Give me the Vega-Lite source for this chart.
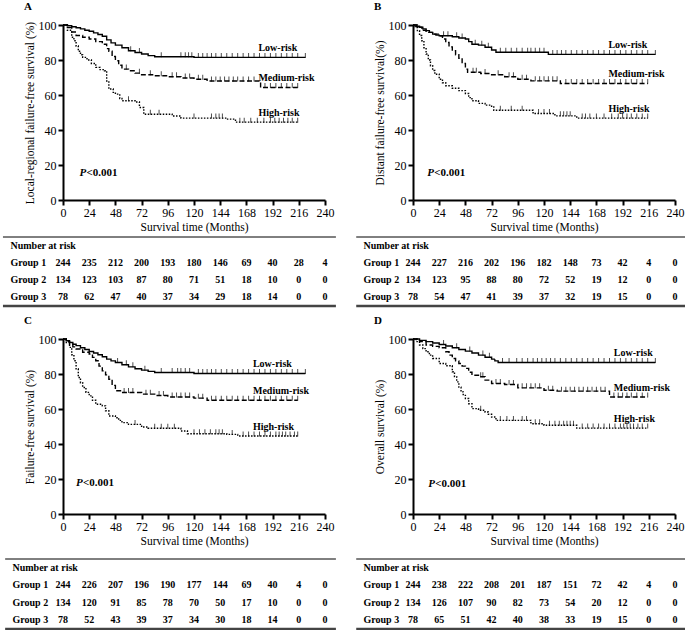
{
"$schema": "https://vega.github.io/schema/vega-lite/v6.json",
"padding": {"left": 1, "top": 1, "right": 0, "bottom": 0},
"datasets": {
"km": [
{"p":"A","g":"Low-risk","t":0,"s":100},{"p":"A","g":"Low-risk","t":4,"s":99.6},{"p":"A","g":"Low-risk","t":8,"s":99},{"p":"A","g":"Low-risk","t":12,"s":98.4},{"p":"A","g":"Low-risk","t":16,"s":97.8},{"p":"A","g":"Low-risk","t":20,"s":97},{"p":"A","g":"Low-risk","t":24,"s":96.4},{"p":"A","g":"Low-risk","t":28,"s":95.5},{"p":"A","g":"Low-risk","t":32,"s":94.6},{"p":"A","g":"Low-risk","t":36,"s":93.6},{"p":"A","g":"Low-risk","t":40,"s":91.5},{"p":"A","g":"Low-risk","t":44,"s":89.8},{"p":"A","g":"Low-risk","t":48,"s":88.5},{"p":"A","g":"Low-risk","t":54,"s":87},{"p":"A","g":"Low-risk","t":60,"s":85.3},{"p":"A","g":"Low-risk","t":62,"s":85.3,"c":1},{"p":"A","g":"Low-risk","t":66,"s":84.3},{"p":"A","g":"Low-risk","t":70,"s":84.3,"c":1},{"p":"A","g":"Low-risk","t":72,"s":83.4},{"p":"A","g":"Low-risk","t":78,"s":82.5},{"p":"A","g":"Low-risk","t":84,"s":81.9},{"p":"A","g":"Low-risk","t":90,"s":81.9,"c":1},{"p":"A","g":"Low-risk","t":108,"s":81.9,"c":1},{"p":"A","g":"Low-risk","t":112,"s":81.9,"c":1},{"p":"A","g":"Low-risk","t":115,"s":81.9,"c":1},{"p":"A","g":"Low-risk","t":118,"s":81.9,"c":1},{"p":"A","g":"Low-risk","t":120,"s":81.5},{"p":"A","g":"Low-risk","t":124,"s":81.5,"c":1},{"p":"A","g":"Low-risk","t":128,"s":81.5,"c":1},{"p":"A","g":"Low-risk","t":132,"s":81.5,"c":1},{"p":"A","g":"Low-risk","t":136,"s":81.5,"c":1},{"p":"A","g":"Low-risk","t":140,"s":81.5,"c":1},{"p":"A","g":"Low-risk","t":145,"s":81.5,"c":1},{"p":"A","g":"Low-risk","t":150,"s":81.5,"c":1},{"p":"A","g":"Low-risk","t":155,"s":81.5,"c":1},{"p":"A","g":"Low-risk","t":160,"s":81.5,"c":1},{"p":"A","g":"Low-risk","t":165,"s":81.5,"c":1},{"p":"A","g":"Low-risk","t":170,"s":81.5,"c":1},{"p":"A","g":"Low-risk","t":175,"s":81.5,"c":1},{"p":"A","g":"Low-risk","t":180,"s":81.5,"c":1},{"p":"A","g":"Low-risk","t":185,"s":81.5,"c":1},{"p":"A","g":"Low-risk","t":190,"s":81.5,"c":1},{"p":"A","g":"Low-risk","t":195,"s":81.5,"c":1},{"p":"A","g":"Low-risk","t":200,"s":81.5,"c":1},{"p":"A","g":"Low-risk","t":205,"s":81.5,"c":1},{"p":"A","g":"Low-risk","t":210,"s":81.5,"c":1},{"p":"A","g":"Low-risk","t":215,"s":81.5,"c":1},{"p":"A","g":"Low-risk","t":222,"s":81.5,"c":1},
{"p":"A","g":"Medium-risk","t":0,"s":100},{"p":"A","g":"Medium-risk","t":4,"s":98.5},{"p":"A","g":"Medium-risk","t":8,"s":96},{"p":"A","g":"Medium-risk","t":12,"s":94},{"p":"A","g":"Medium-risk","t":18,"s":93},{"p":"A","g":"Medium-risk","t":24,"s":92},{"p":"A","g":"Medium-risk","t":30,"s":90.5},{"p":"A","g":"Medium-risk","t":36,"s":89},{"p":"A","g":"Medium-risk","t":40,"s":86.5},{"p":"A","g":"Medium-risk","t":42,"s":85},{"p":"A","g":"Medium-risk","t":45,"s":82},{"p":"A","g":"Medium-risk","t":48,"s":79.6},{"p":"A","g":"Medium-risk","t":51,"s":77},{"p":"A","g":"Medium-risk","t":54,"s":74.8},{"p":"A","g":"Medium-risk","t":58,"s":74.8,"c":1},{"p":"A","g":"Medium-risk","t":60,"s":73.9},{"p":"A","g":"Medium-risk","t":66,"s":72.5},{"p":"A","g":"Medium-risk","t":70,"s":72.5,"c":1},{"p":"A","g":"Medium-risk","t":72,"s":71.6},{"p":"A","g":"Medium-risk","t":80,"s":71.6,"c":1},{"p":"A","g":"Medium-risk","t":84,"s":71},{"p":"A","g":"Medium-risk","t":90,"s":71,"c":1},{"p":"A","g":"Medium-risk","t":96,"s":70.4},{"p":"A","g":"Medium-risk","t":100,"s":70.4,"c":1},{"p":"A","g":"Medium-risk","t":104,"s":70.4,"c":1},{"p":"A","g":"Medium-risk","t":108,"s":69.7},{"p":"A","g":"Medium-risk","t":112,"s":69.7,"c":1},{"p":"A","g":"Medium-risk","t":116,"s":69.7,"c":1},{"p":"A","g":"Medium-risk","t":120,"s":69},{"p":"A","g":"Medium-risk","t":124,"s":69,"c":1},{"p":"A","g":"Medium-risk","t":128,"s":69,"c":1},{"p":"A","g":"Medium-risk","t":132,"s":68},{"p":"A","g":"Medium-risk","t":136,"s":68,"c":1},{"p":"A","g":"Medium-risk","t":140,"s":68,"c":1},{"p":"A","g":"Medium-risk","t":144,"s":68,"c":1},{"p":"A","g":"Medium-risk","t":148,"s":68,"c":1},{"p":"A","g":"Medium-risk","t":152,"s":68,"c":1},{"p":"A","g":"Medium-risk","t":156,"s":68,"c":1},{"p":"A","g":"Medium-risk","t":160,"s":68,"c":1},{"p":"A","g":"Medium-risk","t":165,"s":68,"c":1},{"p":"A","g":"Medium-risk","t":170,"s":68,"c":1},{"p":"A","g":"Medium-risk","t":175,"s":68,"c":1},{"p":"A","g":"Medium-risk","t":181,"s":64.3},{"p":"A","g":"Medium-risk","t":185,"s":64.3,"c":1},{"p":"A","g":"Medium-risk","t":190,"s":64.3,"c":1},{"p":"A","g":"Medium-risk","t":195,"s":64.3,"c":1},{"p":"A","g":"Medium-risk","t":200,"s":64.3,"c":1},{"p":"A","g":"Medium-risk","t":205,"s":64.3,"c":1},{"p":"A","g":"Medium-risk","t":210,"s":64.3,"c":1},{"p":"A","g":"Medium-risk","t":215,"s":64.3,"c":1},
{"p":"A","g":"High-risk","t":0,"s":100},{"p":"A","g":"High-risk","t":4,"s":97},{"p":"A","g":"High-risk","t":8,"s":93},{"p":"A","g":"High-risk","t":10,"s":91},{"p":"A","g":"High-risk","t":12,"s":88},{"p":"A","g":"High-risk","t":14,"s":85},{"p":"A","g":"High-risk","t":16,"s":83},{"p":"A","g":"High-risk","t":18,"s":81.5},{"p":"A","g":"High-risk","t":22,"s":80},{"p":"A","g":"High-risk","t":26,"s":78},{"p":"A","g":"High-risk","t":30,"s":75.8},{"p":"A","g":"High-risk","t":34,"s":74.5},{"p":"A","g":"High-risk","t":38,"s":73.9},{"p":"A","g":"High-risk","t":40,"s":68},{"p":"A","g":"High-risk","t":42,"s":63.4},{"p":"A","g":"High-risk","t":46,"s":61.5},{"p":"A","g":"High-risk","t":48,"s":60.5},{"p":"A","g":"High-risk","t":52,"s":58},{"p":"A","g":"High-risk","t":54,"s":56.7},{"p":"A","g":"High-risk","t":60,"s":56.7,"c":1},{"p":"A","g":"High-risk","t":66,"s":56},{"p":"A","g":"High-risk","t":70,"s":52.9},{"p":"A","g":"High-risk","t":74,"s":49},{"p":"A","g":"High-risk","t":80,"s":49,"c":1},{"p":"A","g":"High-risk","t":88,"s":49,"c":1},{"p":"A","g":"High-risk","t":100,"s":48},{"p":"A","g":"High-risk","t":108,"s":46.8},{"p":"A","g":"High-risk","t":120,"s":46.8,"c":1},{"p":"A","g":"High-risk","t":136,"s":46.8,"c":1},{"p":"A","g":"High-risk","t":140,"s":46.8,"c":1},{"p":"A","g":"High-risk","t":143,"s":46.8,"c":1},{"p":"A","g":"High-risk","t":146,"s":46.8,"c":1},{"p":"A","g":"High-risk","t":150,"s":46.2},{"p":"A","g":"High-risk","t":158,"s":44.5},{"p":"A","g":"High-risk","t":162,"s":44.5,"c":1},{"p":"A","g":"High-risk","t":166,"s":44.5,"c":1},{"p":"A","g":"High-risk","t":172,"s":44.5,"c":1},{"p":"A","g":"High-risk","t":178,"s":44.5,"c":1},{"p":"A","g":"High-risk","t":184,"s":44.5,"c":1},{"p":"A","g":"High-risk","t":190,"s":44.5,"c":1},{"p":"A","g":"High-risk","t":194,"s":44.5,"c":1},{"p":"A","g":"High-risk","t":198,"s":44.5,"c":1},{"p":"A","g":"High-risk","t":202,"s":44.5,"c":1},{"p":"A","g":"High-risk","t":206,"s":44.5,"c":1},{"p":"A","g":"High-risk","t":210,"s":44.5,"c":1},{"p":"A","g":"High-risk","t":215,"s":44.5,"c":1},
{"p":"B","g":"Low-risk","t":0,"s":100},{"p":"B","g":"Low-risk","t":3,"s":99.3},{"p":"B","g":"Low-risk","t":6,"s":98.7},{"p":"B","g":"Low-risk","t":9,"s":97.8},{"p":"B","g":"Low-risk","t":12,"s":96.8},{"p":"B","g":"Low-risk","t":15,"s":95.8},{"p":"B","g":"Low-risk","t":18,"s":94.8},{"p":"B","g":"Low-risk","t":21,"s":94.2},{"p":"B","g":"Low-risk","t":24,"s":93.9},{"p":"B","g":"Low-risk","t":28,"s":93.9,"c":1},{"p":"B","g":"Low-risk","t":32,"s":93.9,"c":1},{"p":"B","g":"Low-risk","t":36,"s":93.3},{"p":"B","g":"Low-risk","t":40,"s":93.3,"c":1},{"p":"B","g":"Low-risk","t":42,"s":92.6},{"p":"B","g":"Low-risk","t":45,"s":92.6,"c":1},{"p":"B","g":"Low-risk","t":48,"s":92},{"p":"B","g":"Low-risk","t":51,"s":90.5},{"p":"B","g":"Low-risk","t":54,"s":89},{"p":"B","g":"Low-risk","t":57,"s":89,"c":1},{"p":"B","g":"Low-risk","t":60,"s":88.5},{"p":"B","g":"Low-risk","t":63,"s":88.5,"c":1},{"p":"B","g":"Low-risk","t":66,"s":87.3},{"p":"B","g":"Low-risk","t":69,"s":87.3,"c":1},{"p":"B","g":"Low-risk","t":72,"s":85.7},{"p":"B","g":"Low-risk","t":76,"s":84.4},{"p":"B","g":"Low-risk","t":80,"s":84.4,"c":1},{"p":"B","g":"Low-risk","t":85,"s":84.4,"c":1},{"p":"B","g":"Low-risk","t":90,"s":84.4,"c":1},{"p":"B","g":"Low-risk","t":95,"s":84.4,"c":1},{"p":"B","g":"Low-risk","t":100,"s":84.4,"c":1},{"p":"B","g":"Low-risk","t":105,"s":84.4,"c":1},{"p":"B","g":"Low-risk","t":108,"s":84.4,"c":1},{"p":"B","g":"Low-risk","t":112,"s":84.4,"c":1},{"p":"B","g":"Low-risk","t":116,"s":84.4,"c":1},{"p":"B","g":"Low-risk","t":120,"s":84.4,"c":1},{"p":"B","g":"Low-risk","t":124,"s":83.2},{"p":"B","g":"Low-risk","t":128,"s":83.2,"c":1},{"p":"B","g":"Low-risk","t":132,"s":83.2,"c":1},{"p":"B","g":"Low-risk","t":136,"s":83.2,"c":1},{"p":"B","g":"Low-risk","t":140,"s":83.2,"c":1},{"p":"B","g":"Low-risk","t":145,"s":83.2,"c":1},{"p":"B","g":"Low-risk","t":150,"s":83.2,"c":1},{"p":"B","g":"Low-risk","t":155,"s":83.2,"c":1},{"p":"B","g":"Low-risk","t":160,"s":83.2,"c":1},{"p":"B","g":"Low-risk","t":165,"s":83.2,"c":1},{"p":"B","g":"Low-risk","t":170,"s":83.2,"c":1},{"p":"B","g":"Low-risk","t":175,"s":83.2,"c":1},{"p":"B","g":"Low-risk","t":180,"s":83.2,"c":1},{"p":"B","g":"Low-risk","t":185,"s":83.2,"c":1},{"p":"B","g":"Low-risk","t":190,"s":83.2,"c":1},{"p":"B","g":"Low-risk","t":195,"s":83.2,"c":1},{"p":"B","g":"Low-risk","t":200,"s":83.2,"c":1},{"p":"B","g":"Low-risk","t":205,"s":83.2,"c":1},{"p":"B","g":"Low-risk","t":210,"s":83.2,"c":1},{"p":"B","g":"Low-risk","t":215,"s":83.2,"c":1},{"p":"B","g":"Low-risk","t":222,"s":83.2,"c":1},
{"p":"B","g":"Medium-risk","t":0,"s":100},{"p":"B","g":"Medium-risk","t":4,"s":98.8},{"p":"B","g":"Medium-risk","t":8,"s":97},{"p":"B","g":"Medium-risk","t":12,"s":95.8},{"p":"B","g":"Medium-risk","t":18,"s":94.8},{"p":"B","g":"Medium-risk","t":24,"s":93.9},{"p":"B","g":"Medium-risk","t":27,"s":92},{"p":"B","g":"Medium-risk","t":30,"s":90},{"p":"B","g":"Medium-risk","t":33,"s":87.5},{"p":"B","g":"Medium-risk","t":36,"s":85.3},{"p":"B","g":"Medium-risk","t":39,"s":83},{"p":"B","g":"Medium-risk","t":42,"s":81},{"p":"B","g":"Medium-risk","t":45,"s":78},{"p":"B","g":"Medium-risk","t":48,"s":74.8},{"p":"B","g":"Medium-risk","t":50,"s":73},{"p":"B","g":"Medium-risk","t":55,"s":73,"c":1},{"p":"B","g":"Medium-risk","t":58,"s":73,"c":1},{"p":"B","g":"Medium-risk","t":62,"s":72.3},{"p":"B","g":"Medium-risk","t":66,"s":72.3,"c":1},{"p":"B","g":"Medium-risk","t":72,"s":71.6},{"p":"B","g":"Medium-risk","t":78,"s":71.6,"c":1},{"p":"B","g":"Medium-risk","t":84,"s":70.4},{"p":"B","g":"Medium-risk","t":88,"s":70.4,"c":1},{"p":"B","g":"Medium-risk","t":92,"s":70.4,"c":1},{"p":"B","g":"Medium-risk","t":96,"s":69},{"p":"B","g":"Medium-risk","t":100,"s":69,"c":1},{"p":"B","g":"Medium-risk","t":104,"s":69,"c":1},{"p":"B","g":"Medium-risk","t":108,"s":68.1},{"p":"B","g":"Medium-risk","t":112,"s":68.1,"c":1},{"p":"B","g":"Medium-risk","t":116,"s":68.1,"c":1},{"p":"B","g":"Medium-risk","t":120,"s":68.1,"c":1},{"p":"B","g":"Medium-risk","t":124,"s":68.1,"c":1},{"p":"B","g":"Medium-risk","t":128,"s":68.1,"c":1},{"p":"B","g":"Medium-risk","t":132,"s":68.1,"c":1},{"p":"B","g":"Medium-risk","t":135,"s":66.6},{"p":"B","g":"Medium-risk","t":140,"s":66.6,"c":1},{"p":"B","g":"Medium-risk","t":145,"s":66.6,"c":1},{"p":"B","g":"Medium-risk","t":150,"s":66.6,"c":1},{"p":"B","g":"Medium-risk","t":155,"s":66.6,"c":1},{"p":"B","g":"Medium-risk","t":160,"s":66.6,"c":1},{"p":"B","g":"Medium-risk","t":165,"s":66.6,"c":1},{"p":"B","g":"Medium-risk","t":170,"s":66.6,"c":1},{"p":"B","g":"Medium-risk","t":175,"s":66.6,"c":1},{"p":"B","g":"Medium-risk","t":180,"s":66.6,"c":1},{"p":"B","g":"Medium-risk","t":185,"s":66.6,"c":1},{"p":"B","g":"Medium-risk","t":190,"s":66.6,"c":1},{"p":"B","g":"Medium-risk","t":195,"s":66.6,"c":1},{"p":"B","g":"Medium-risk","t":200,"s":66.6,"c":1},{"p":"B","g":"Medium-risk","t":205,"s":66.6,"c":1},{"p":"B","g":"Medium-risk","t":210,"s":66.6,"c":1},{"p":"B","g":"Medium-risk","t":215,"s":66.6,"c":1},
{"p":"B","g":"High-risk","t":0,"s":100},{"p":"B","g":"High-risk","t":2,"s":98.5},{"p":"B","g":"High-risk","t":4,"s":96.8},{"p":"B","g":"High-risk","t":6,"s":94},{"p":"B","g":"High-risk","t":8,"s":91},{"p":"B","g":"High-risk","t":10,"s":87},{"p":"B","g":"High-risk","t":12,"s":83.4},{"p":"B","g":"High-risk","t":14,"s":80},{"p":"B","g":"High-risk","t":16,"s":76.7},{"p":"B","g":"High-risk","t":18,"s":74},{"p":"B","g":"High-risk","t":20,"s":71.9},{"p":"B","g":"High-risk","t":24,"s":69},{"p":"B","g":"High-risk","t":27,"s":67},{"p":"B","g":"High-risk","t":30,"s":65.3},{"p":"B","g":"High-risk","t":36,"s":63.9},{"p":"B","g":"High-risk","t":42,"s":62.5},{"p":"B","g":"High-risk","t":48,"s":60.9},{"p":"B","g":"High-risk","t":51,"s":58.5},{"p":"B","g":"High-risk","t":54,"s":56.7},{"p":"B","g":"High-risk","t":60,"s":55.2},{"p":"B","g":"High-risk","t":66,"s":54.2},{"p":"B","g":"High-risk","t":72,"s":53.2},{"p":"B","g":"High-risk","t":74,"s":51.3},{"p":"B","g":"High-risk","t":80,"s":51.3,"c":1},{"p":"B","g":"High-risk","t":90,"s":51.3,"c":1},{"p":"B","g":"High-risk","t":100,"s":51.3,"c":1},{"p":"B","g":"High-risk","t":110,"s":49.4},{"p":"B","g":"High-risk","t":115,"s":49.4,"c":1},{"p":"B","g":"High-risk","t":120,"s":49.4,"c":1},{"p":"B","g":"High-risk","t":125,"s":49.4,"c":1},{"p":"B","g":"High-risk","t":130,"s":48.1},{"p":"B","g":"High-risk","t":135,"s":48.1,"c":1},{"p":"B","g":"High-risk","t":138,"s":48.1,"c":1},{"p":"B","g":"High-risk","t":141,"s":48.1,"c":1},{"p":"B","g":"High-risk","t":144,"s":48.1,"c":1},{"p":"B","g":"High-risk","t":150,"s":46.8},{"p":"B","g":"High-risk","t":155,"s":46.8,"c":1},{"p":"B","g":"High-risk","t":158,"s":46.8,"c":1},{"p":"B","g":"High-risk","t":162,"s":46.8,"c":1},{"p":"B","g":"High-risk","t":168,"s":46.8,"c":1},{"p":"B","g":"High-risk","t":175,"s":46.8,"c":1},{"p":"B","g":"High-risk","t":182,"s":46.8,"c":1},{"p":"B","g":"High-risk","t":188,"s":46.8,"c":1},{"p":"B","g":"High-risk","t":192,"s":46.8,"c":1},{"p":"B","g":"High-risk","t":196,"s":46.8,"c":1},{"p":"B","g":"High-risk","t":200,"s":46.8,"c":1},{"p":"B","g":"High-risk","t":205,"s":46.8,"c":1},{"p":"B","g":"High-risk","t":210,"s":46.8,"c":1},{"p":"B","g":"High-risk","t":215,"s":46.8,"c":1},
{"p":"C","g":"Low-risk","t":0,"s":100},{"p":"C","g":"Low-risk","t":3,"s":99},{"p":"C","g":"Low-risk","t":6,"s":98},{"p":"C","g":"Low-risk","t":9,"s":97},{"p":"C","g":"Low-risk","t":12,"s":96.2},{"p":"C","g":"Low-risk","t":16,"s":95},{"p":"C","g":"Low-risk","t":20,"s":94},{"p":"C","g":"Low-risk","t":24,"s":92.9},{"p":"C","g":"Low-risk","t":28,"s":92},{"p":"C","g":"Low-risk","t":32,"s":91},{"p":"C","g":"Low-risk","t":36,"s":89.9},{"p":"C","g":"Low-risk","t":40,"s":88.5},{"p":"C","g":"Low-risk","t":44,"s":87.5},{"p":"C","g":"Low-risk","t":48,"s":86.6},{"p":"C","g":"Low-risk","t":50,"s":86.6,"c":1},{"p":"C","g":"Low-risk","t":54,"s":85.3},{"p":"C","g":"Low-risk","t":58,"s":85.3,"c":1},{"p":"C","g":"Low-risk","t":60,"s":84.1},{"p":"C","g":"Low-risk","t":64,"s":84.1,"c":1},{"p":"C","g":"Low-risk","t":66,"s":83},{"p":"C","g":"Low-risk","t":72,"s":82.2},{"p":"C","g":"Low-risk","t":75,"s":82.2,"c":1},{"p":"C","g":"Low-risk","t":78,"s":81.5},{"p":"C","g":"Low-risk","t":84,"s":80.9},{"p":"C","g":"Low-risk","t":90,"s":80.9,"c":1},{"p":"C","g":"Low-risk","t":100,"s":80.9,"c":1},{"p":"C","g":"Low-risk","t":105,"s":80.9,"c":1},{"p":"C","g":"Low-risk","t":108,"s":80.9,"c":1},{"p":"C","g":"Low-risk","t":112,"s":80.9,"c":1},{"p":"C","g":"Low-risk","t":116,"s":80.9,"c":1},{"p":"C","g":"Low-risk","t":120,"s":80.3},{"p":"C","g":"Low-risk","t":124,"s":80.3,"c":1},{"p":"C","g":"Low-risk","t":128,"s":80.3,"c":1},{"p":"C","g":"Low-risk","t":132,"s":80.3,"c":1},{"p":"C","g":"Low-risk","t":136,"s":80.3,"c":1},{"p":"C","g":"Low-risk","t":140,"s":80.3,"c":1},{"p":"C","g":"Low-risk","t":145,"s":80.3,"c":1},{"p":"C","g":"Low-risk","t":150,"s":80.3,"c":1},{"p":"C","g":"Low-risk","t":155,"s":80.3,"c":1},{"p":"C","g":"Low-risk","t":160,"s":80.3,"c":1},{"p":"C","g":"Low-risk","t":165,"s":80.3,"c":1},{"p":"C","g":"Low-risk","t":170,"s":80.3,"c":1},{"p":"C","g":"Low-risk","t":175,"s":80.3,"c":1},{"p":"C","g":"Low-risk","t":180,"s":80.3,"c":1},{"p":"C","g":"Low-risk","t":185,"s":80.3,"c":1},{"p":"C","g":"Low-risk","t":190,"s":80.3,"c":1},{"p":"C","g":"Low-risk","t":195,"s":80.3,"c":1},{"p":"C","g":"Low-risk","t":200,"s":80.3,"c":1},{"p":"C","g":"Low-risk","t":205,"s":80.3,"c":1},{"p":"C","g":"Low-risk","t":210,"s":80.3,"c":1},{"p":"C","g":"Low-risk","t":215,"s":80.3,"c":1},{"p":"C","g":"Low-risk","t":222,"s":80.3,"c":1},
{"p":"C","g":"Medium-risk","t":0,"s":100},{"p":"C","g":"Medium-risk","t":3,"s":98.5},{"p":"C","g":"Medium-risk","t":6,"s":97},{"p":"C","g":"Medium-risk","t":9,"s":95.5},{"p":"C","g":"Medium-risk","t":12,"s":94.3},{"p":"C","g":"Medium-risk","t":18,"s":92.4},{"p":"C","g":"Medium-risk","t":24,"s":91.4},{"p":"C","g":"Medium-risk","t":27,"s":89.5},{"p":"C","g":"Medium-risk","t":30,"s":87.6},{"p":"C","g":"Medium-risk","t":33,"s":84.5},{"p":"C","g":"Medium-risk","t":36,"s":81.8},{"p":"C","g":"Medium-risk","t":39,"s":79.5},{"p":"C","g":"Medium-risk","t":42,"s":77},{"p":"C","g":"Medium-risk","t":45,"s":73.5},{"p":"C","g":"Medium-risk","t":48,"s":70.4},{"p":"C","g":"Medium-risk","t":54,"s":69.4},{"p":"C","g":"Medium-risk","t":56,"s":69.4,"c":1},{"p":"C","g":"Medium-risk","t":60,"s":69.4,"c":1},{"p":"C","g":"Medium-risk","t":64,"s":69.4,"c":1},{"p":"C","g":"Medium-risk","t":72,"s":68.5},{"p":"C","g":"Medium-risk","t":76,"s":68.5,"c":1},{"p":"C","g":"Medium-risk","t":80,"s":68.5,"c":1},{"p":"C","g":"Medium-risk","t":84,"s":67.7},{"p":"C","g":"Medium-risk","t":88,"s":67.7,"c":1},{"p":"C","g":"Medium-risk","t":92,"s":67.7,"c":1},{"p":"C","g":"Medium-risk","t":96,"s":66.9},{"p":"C","g":"Medium-risk","t":100,"s":66.9,"c":1},{"p":"C","g":"Medium-risk","t":104,"s":66.9,"c":1},{"p":"C","g":"Medium-risk","t":108,"s":66.9,"c":1},{"p":"C","g":"Medium-risk","t":112,"s":66.9,"c":1},{"p":"C","g":"Medium-risk","t":116,"s":66.9,"c":1},{"p":"C","g":"Medium-risk","t":120,"s":66.2},{"p":"C","g":"Medium-risk","t":124,"s":66.2,"c":1},{"p":"C","g":"Medium-risk","t":128,"s":66.2,"c":1},{"p":"C","g":"Medium-risk","t":132,"s":65},{"p":"C","g":"Medium-risk","t":136,"s":65,"c":1},{"p":"C","g":"Medium-risk","t":140,"s":65,"c":1},{"p":"C","g":"Medium-risk","t":145,"s":65,"c":1},{"p":"C","g":"Medium-risk","t":150,"s":65,"c":1},{"p":"C","g":"Medium-risk","t":155,"s":65,"c":1},{"p":"C","g":"Medium-risk","t":160,"s":65,"c":1},{"p":"C","g":"Medium-risk","t":165,"s":65,"c":1},{"p":"C","g":"Medium-risk","t":170,"s":65,"c":1},{"p":"C","g":"Medium-risk","t":175,"s":65,"c":1},{"p":"C","g":"Medium-risk","t":180,"s":65,"c":1},{"p":"C","g":"Medium-risk","t":185,"s":65,"c":1},{"p":"C","g":"Medium-risk","t":190,"s":65,"c":1},{"p":"C","g":"Medium-risk","t":195,"s":65,"c":1},{"p":"C","g":"Medium-risk","t":200,"s":65,"c":1},{"p":"C","g":"Medium-risk","t":205,"s":65,"c":1},{"p":"C","g":"Medium-risk","t":210,"s":65,"c":1},{"p":"C","g":"Medium-risk","t":215,"s":65,"c":1},
{"p":"C","g":"High-risk","t":0,"s":100},{"p":"C","g":"High-risk","t":3,"s":98},{"p":"C","g":"High-risk","t":6,"s":95.2},{"p":"C","g":"High-risk","t":8,"s":91},{"p":"C","g":"High-risk","t":10,"s":87.6},{"p":"C","g":"High-risk","t":12,"s":83},{"p":"C","g":"High-risk","t":14,"s":78},{"p":"C","g":"High-risk","t":16,"s":75},{"p":"C","g":"High-risk","t":18,"s":72.3},{"p":"C","g":"High-risk","t":21,"s":69.5},{"p":"C","g":"High-risk","t":24,"s":67.5},{"p":"C","g":"High-risk","t":27,"s":65},{"p":"C","g":"High-risk","t":30,"s":62.7},{"p":"C","g":"High-risk","t":36,"s":61.8},{"p":"C","g":"High-risk","t":39,"s":59},{"p":"C","g":"High-risk","t":42,"s":56},{"p":"C","g":"High-risk","t":48,"s":55},{"p":"C","g":"High-risk","t":51,"s":53.5},{"p":"C","g":"High-risk","t":54,"s":52.2},{"p":"C","g":"High-risk","t":60,"s":51.2},{"p":"C","g":"High-risk","t":66,"s":51.2,"c":1},{"p":"C","g":"High-risk","t":72,"s":49.7},{"p":"C","g":"High-risk","t":78,"s":49},{"p":"C","g":"High-risk","t":84,"s":49,"c":1},{"p":"C","g":"High-risk","t":90,"s":49,"c":1},{"p":"C","g":"High-risk","t":96,"s":49,"c":1},{"p":"C","g":"High-risk","t":102,"s":49,"c":1},{"p":"C","g":"High-risk","t":108,"s":47.4},{"p":"C","g":"High-risk","t":114,"s":45.9},{"p":"C","g":"High-risk","t":120,"s":45.9,"c":1},{"p":"C","g":"High-risk","t":125,"s":45.9,"c":1},{"p":"C","g":"High-risk","t":130,"s":45.9,"c":1},{"p":"C","g":"High-risk","t":135,"s":45.9,"c":1},{"p":"C","g":"High-risk","t":140,"s":45.9,"c":1},{"p":"C","g":"High-risk","t":143,"s":45.9,"c":1},{"p":"C","g":"High-risk","t":146,"s":45.9,"c":1},{"p":"C","g":"High-risk","t":150,"s":45.5},{"p":"C","g":"High-risk","t":155,"s":45.5,"c":1},{"p":"C","g":"High-risk","t":160,"s":44.6},{"p":"C","g":"High-risk","t":165,"s":44.6,"c":1},{"p":"C","g":"High-risk","t":170,"s":44.6,"c":1},{"p":"C","g":"High-risk","t":175,"s":44.6,"c":1},{"p":"C","g":"High-risk","t":180,"s":44.6,"c":1},{"p":"C","g":"High-risk","t":185,"s":44.6,"c":1},{"p":"C","g":"High-risk","t":190,"s":44.6,"c":1},{"p":"C","g":"High-risk","t":195,"s":44.6,"c":1},{"p":"C","g":"High-risk","t":198,"s":44.6,"c":1},{"p":"C","g":"High-risk","t":201,"s":44.6,"c":1},{"p":"C","g":"High-risk","t":204,"s":44.6,"c":1},{"p":"C","g":"High-risk","t":208,"s":44.6,"c":1},{"p":"C","g":"High-risk","t":212,"s":44.6,"c":1},{"p":"C","g":"High-risk","t":215,"s":44.6,"c":1},
{"p":"D","g":"Low-risk","t":0,"s":100},{"p":"D","g":"Low-risk","t":6,"s":99.2},{"p":"D","g":"Low-risk","t":12,"s":98.5},{"p":"D","g":"Low-risk","t":18,"s":97.7},{"p":"D","g":"Low-risk","t":24,"s":96.9},{"p":"D","g":"Low-risk","t":28,"s":96.9,"c":1},{"p":"D","g":"Low-risk","t":30,"s":96},{"p":"D","g":"Low-risk","t":36,"s":95},{"p":"D","g":"Low-risk","t":40,"s":95,"c":1},{"p":"D","g":"Low-risk","t":42,"s":94},{"p":"D","g":"Low-risk","t":48,"s":93.1},{"p":"D","g":"Low-risk","t":52,"s":93.1,"c":1},{"p":"D","g":"Low-risk","t":54,"s":92},{"p":"D","g":"Low-risk","t":60,"s":90.8},{"p":"D","g":"Low-risk","t":64,"s":90.8,"c":1},{"p":"D","g":"Low-risk","t":66,"s":89.6},{"p":"D","g":"Low-risk","t":70,"s":89.6,"c":1},{"p":"D","g":"Low-risk","t":72,"s":88.5},{"p":"D","g":"Low-risk","t":75,"s":87.5},{"p":"D","g":"Low-risk","t":78,"s":86.6},{"p":"D","g":"Low-risk","t":82,"s":86.6,"c":1},{"p":"D","g":"Low-risk","t":88,"s":86.6,"c":1},{"p":"D","g":"Low-risk","t":95,"s":86.6,"c":1},{"p":"D","g":"Low-risk","t":100,"s":86.6,"c":1},{"p":"D","g":"Low-risk","t":105,"s":86.6,"c":1},{"p":"D","g":"Low-risk","t":110,"s":86.6,"c":1},{"p":"D","g":"Low-risk","t":114,"s":86.6,"c":1},{"p":"D","g":"Low-risk","t":118,"s":86.6,"c":1},{"p":"D","g":"Low-risk","t":122,"s":86.6,"c":1},{"p":"D","g":"Low-risk","t":126,"s":86.6,"c":1},{"p":"D","g":"Low-risk","t":130,"s":86.6,"c":1},{"p":"D","g":"Low-risk","t":135,"s":86.6,"c":1},{"p":"D","g":"Low-risk","t":140,"s":86.6,"c":1},{"p":"D","g":"Low-risk","t":145,"s":86.6,"c":1},{"p":"D","g":"Low-risk","t":150,"s":86.6,"c":1},{"p":"D","g":"Low-risk","t":155,"s":86.6,"c":1},{"p":"D","g":"Low-risk","t":160,"s":86.6,"c":1},{"p":"D","g":"Low-risk","t":165,"s":86.6,"c":1},{"p":"D","g":"Low-risk","t":170,"s":86.6,"c":1},{"p":"D","g":"Low-risk","t":175,"s":86.6,"c":1},{"p":"D","g":"Low-risk","t":180,"s":86.6,"c":1},{"p":"D","g":"Low-risk","t":185,"s":86.6,"c":1},{"p":"D","g":"Low-risk","t":190,"s":86.6,"c":1},{"p":"D","g":"Low-risk","t":195,"s":86.6,"c":1},{"p":"D","g":"Low-risk","t":200,"s":86.6,"c":1},{"p":"D","g":"Low-risk","t":205,"s":86.6,"c":1},{"p":"D","g":"Low-risk","t":210,"s":86.6,"c":1},{"p":"D","g":"Low-risk","t":215,"s":86.6,"c":1},{"p":"D","g":"Low-risk","t":222,"s":86.6,"c":1},
{"p":"D","g":"Medium-risk","t":0,"s":100},{"p":"D","g":"Medium-risk","t":6,"s":98.5},{"p":"D","g":"Medium-risk","t":12,"s":96.6},{"p":"D","g":"Medium-risk","t":18,"s":95.8},{"p":"D","g":"Medium-risk","t":24,"s":95},{"p":"D","g":"Medium-risk","t":30,"s":92.7},{"p":"D","g":"Medium-risk","t":33,"s":90.8},{"p":"D","g":"Medium-risk","t":36,"s":88.9},{"p":"D","g":"Medium-risk","t":39,"s":87.5},{"p":"D","g":"Medium-risk","t":42,"s":86},{"p":"D","g":"Medium-risk","t":45,"s":84.5},{"p":"D","g":"Medium-risk","t":48,"s":83.2},{"p":"D","g":"Medium-risk","t":51,"s":81},{"p":"D","g":"Medium-risk","t":54,"s":79.3},{"p":"D","g":"Medium-risk","t":60,"s":78.4},{"p":"D","g":"Medium-risk","t":62,"s":78.4,"c":1},{"p":"D","g":"Medium-risk","t":64,"s":78.4,"c":1},{"p":"D","g":"Medium-risk","t":66,"s":76.5},{"p":"D","g":"Medium-risk","t":72,"s":74.6},{"p":"D","g":"Medium-risk","t":76,"s":74.6,"c":1},{"p":"D","g":"Medium-risk","t":80,"s":74.6,"c":1},{"p":"D","g":"Medium-risk","t":84,"s":74},{"p":"D","g":"Medium-risk","t":88,"s":74,"c":1},{"p":"D","g":"Medium-risk","t":92,"s":74,"c":1},{"p":"D","g":"Medium-risk","t":96,"s":72.1},{"p":"D","g":"Medium-risk","t":100,"s":72.1,"c":1},{"p":"D","g":"Medium-risk","t":104,"s":72.1,"c":1},{"p":"D","g":"Medium-risk","t":108,"s":72.1,"c":1},{"p":"D","g":"Medium-risk","t":112,"s":72.1,"c":1},{"p":"D","g":"Medium-risk","t":116,"s":72.1,"c":1},{"p":"D","g":"Medium-risk","t":120,"s":70.7},{"p":"D","g":"Medium-risk","t":124,"s":70.7,"c":1},{"p":"D","g":"Medium-risk","t":128,"s":70.7,"c":1},{"p":"D","g":"Medium-risk","t":132,"s":70.2},{"p":"D","g":"Medium-risk","t":136,"s":70.2,"c":1},{"p":"D","g":"Medium-risk","t":140,"s":70.2,"c":1},{"p":"D","g":"Medium-risk","t":144,"s":70.2,"c":1},{"p":"D","g":"Medium-risk","t":148,"s":70.2,"c":1},{"p":"D","g":"Medium-risk","t":152,"s":70.2,"c":1},{"p":"D","g":"Medium-risk","t":156,"s":70.2,"c":1},{"p":"D","g":"Medium-risk","t":160,"s":70.2,"c":1},{"p":"D","g":"Medium-risk","t":164,"s":70.2,"c":1},{"p":"D","g":"Medium-risk","t":168,"s":70.2,"c":1},{"p":"D","g":"Medium-risk","t":172,"s":70.2,"c":1},{"p":"D","g":"Medium-risk","t":176,"s":70.2,"c":1},{"p":"D","g":"Medium-risk","t":180,"s":66.9},{"p":"D","g":"Medium-risk","t":184,"s":66.9,"c":1},{"p":"D","g":"Medium-risk","t":188,"s":66.9,"c":1},{"p":"D","g":"Medium-risk","t":192,"s":66.9,"c":1},{"p":"D","g":"Medium-risk","t":196,"s":66.9,"c":1},{"p":"D","g":"Medium-risk","t":200,"s":66.9,"c":1},{"p":"D","g":"Medium-risk","t":205,"s":66.9,"c":1},{"p":"D","g":"Medium-risk","t":210,"s":66.9,"c":1},{"p":"D","g":"Medium-risk","t":215,"s":66.9,"c":1},
{"p":"D","g":"High-risk","t":0,"s":100},{"p":"D","g":"High-risk","t":3,"s":98.5},{"p":"D","g":"High-risk","t":6,"s":96.6},{"p":"D","g":"High-risk","t":9,"s":94.5},{"p":"D","g":"High-risk","t":12,"s":92.7},{"p":"D","g":"High-risk","t":15,"s":90.8},{"p":"D","g":"High-risk","t":18,"s":88.9},{"p":"D","g":"High-risk","t":24,"s":86},{"p":"D","g":"High-risk","t":30,"s":84.7},{"p":"D","g":"High-risk","t":36,"s":81.3},{"p":"D","g":"High-risk","t":38,"s":78.5},{"p":"D","g":"High-risk","t":40,"s":75.5},{"p":"D","g":"High-risk","t":42,"s":72.5},{"p":"D","g":"High-risk","t":44,"s":69.8},{"p":"D","g":"High-risk","t":46,"s":67.8},{"p":"D","g":"High-risk","t":48,"s":66},{"p":"D","g":"High-risk","t":51,"s":63},{"p":"D","g":"High-risk","t":54,"s":60.2},{"p":"D","g":"High-risk","t":60,"s":59.3},{"p":"D","g":"High-risk","t":62,"s":59.3,"c":1},{"p":"D","g":"High-risk","t":66,"s":58.3},{"p":"D","g":"High-risk","t":69,"s":57},{"p":"D","g":"High-risk","t":72,"s":55.4},{"p":"D","g":"High-risk","t":76,"s":53.5},{"p":"D","g":"High-risk","t":80,"s":53.5,"c":1},{"p":"D","g":"High-risk","t":86,"s":53.5,"c":1},{"p":"D","g":"High-risk","t":92,"s":53.5,"c":1},{"p":"D","g":"High-risk","t":100,"s":53.5,"c":1},{"p":"D","g":"High-risk","t":104,"s":53.5,"c":1},{"p":"D","g":"High-risk","t":108,"s":51.6},{"p":"D","g":"High-risk","t":112,"s":51.6,"c":1},{"p":"D","g":"High-risk","t":116,"s":51.6,"c":1},{"p":"D","g":"High-risk","t":120,"s":50.7},{"p":"D","g":"High-risk","t":125,"s":50.7,"c":1},{"p":"D","g":"High-risk","t":130,"s":50.7,"c":1},{"p":"D","g":"High-risk","t":134,"s":50.7,"c":1},{"p":"D","g":"High-risk","t":138,"s":50.7,"c":1},{"p":"D","g":"High-risk","t":141,"s":50.7,"c":1},{"p":"D","g":"High-risk","t":144,"s":50.7,"c":1},{"p":"D","g":"High-risk","t":147,"s":50.7,"c":1},{"p":"D","g":"High-risk","t":150,"s":49.1},{"p":"D","g":"High-risk","t":155,"s":49.1,"c":1},{"p":"D","g":"High-risk","t":160,"s":49.1,"c":1},{"p":"D","g":"High-risk","t":165,"s":49.1,"c":1},{"p":"D","g":"High-risk","t":170,"s":49.1,"c":1},{"p":"D","g":"High-risk","t":175,"s":49.1,"c":1},{"p":"D","g":"High-risk","t":180,"s":49.1,"c":1},{"p":"D","g":"High-risk","t":185,"s":49.1,"c":1},{"p":"D","g":"High-risk","t":190,"s":49.1,"c":1},{"p":"D","g":"High-risk","t":193,"s":49.1,"c":1},{"p":"D","g":"High-risk","t":196,"s":49.1,"c":1},{"p":"D","g":"High-risk","t":199,"s":49.1,"c":1},{"p":"D","g":"High-risk","t":202,"s":49.1,"c":1},{"p":"D","g":"High-risk","t":206,"s":49.1,"c":1},{"p":"D","g":"High-risk","t":210,"s":49.1,"c":1},{"p":"D","g":"High-risk","t":215,"s":49.1,"c":1}
],
"risk": [
{"p":"A","g":"Group 1","t":0,"n":244},{"p":"A","g":"Group 1","t":24,"n":235},{"p":"A","g":"Group 1","t":48,"n":212},{"p":"A","g":"Group 1","t":72,"n":200},{"p":"A","g":"Group 1","t":96,"n":193},{"p":"A","g":"Group 1","t":120,"n":180},{"p":"A","g":"Group 1","t":144,"n":146},{"p":"A","g":"Group 1","t":168,"n":69},{"p":"A","g":"Group 1","t":192,"n":40},{"p":"A","g":"Group 1","t":216,"n":28},{"p":"A","g":"Group 1","t":240,"n":4},
{"p":"A","g":"Group 2","t":0,"n":134},{"p":"A","g":"Group 2","t":24,"n":123},{"p":"A","g":"Group 2","t":48,"n":103},{"p":"A","g":"Group 2","t":72,"n":87},{"p":"A","g":"Group 2","t":96,"n":80},{"p":"A","g":"Group 2","t":120,"n":71},{"p":"A","g":"Group 2","t":144,"n":51},{"p":"A","g":"Group 2","t":168,"n":18},{"p":"A","g":"Group 2","t":192,"n":10},{"p":"A","g":"Group 2","t":216,"n":0},{"p":"A","g":"Group 2","t":240,"n":0},
{"p":"A","g":"Group 3","t":0,"n":78},{"p":"A","g":"Group 3","t":24,"n":62},{"p":"A","g":"Group 3","t":48,"n":47},{"p":"A","g":"Group 3","t":72,"n":40},{"p":"A","g":"Group 3","t":96,"n":37},{"p":"A","g":"Group 3","t":120,"n":34},{"p":"A","g":"Group 3","t":144,"n":29},{"p":"A","g":"Group 3","t":168,"n":18},{"p":"A","g":"Group 3","t":192,"n":14},{"p":"A","g":"Group 3","t":216,"n":0},{"p":"A","g":"Group 3","t":240,"n":0},
{"p":"B","g":"Group 1","t":0,"n":244},{"p":"B","g":"Group 1","t":24,"n":227},{"p":"B","g":"Group 1","t":48,"n":216},{"p":"B","g":"Group 1","t":72,"n":202},{"p":"B","g":"Group 1","t":96,"n":196},{"p":"B","g":"Group 1","t":120,"n":182},{"p":"B","g":"Group 1","t":144,"n":148},{"p":"B","g":"Group 1","t":168,"n":73},{"p":"B","g":"Group 1","t":192,"n":42},{"p":"B","g":"Group 1","t":216,"n":4},{"p":"B","g":"Group 1","t":240,"n":0},
{"p":"B","g":"Group 2","t":0,"n":134},{"p":"B","g":"Group 2","t":24,"n":123},{"p":"B","g":"Group 2","t":48,"n":95},{"p":"B","g":"Group 2","t":72,"n":88},{"p":"B","g":"Group 2","t":96,"n":80},{"p":"B","g":"Group 2","t":120,"n":72},{"p":"B","g":"Group 2","t":144,"n":52},{"p":"B","g":"Group 2","t":168,"n":19},{"p":"B","g":"Group 2","t":192,"n":12},{"p":"B","g":"Group 2","t":216,"n":0},{"p":"B","g":"Group 2","t":240,"n":0},
{"p":"B","g":"Group 3","t":0,"n":78},{"p":"B","g":"Group 3","t":24,"n":54},{"p":"B","g":"Group 3","t":48,"n":47},{"p":"B","g":"Group 3","t":72,"n":41},{"p":"B","g":"Group 3","t":96,"n":39},{"p":"B","g":"Group 3","t":120,"n":37},{"p":"B","g":"Group 3","t":144,"n":32},{"p":"B","g":"Group 3","t":168,"n":19},{"p":"B","g":"Group 3","t":192,"n":15},{"p":"B","g":"Group 3","t":216,"n":0},{"p":"B","g":"Group 3","t":240,"n":0},
{"p":"C","g":"Group 1","t":0,"n":244},{"p":"C","g":"Group 1","t":24,"n":226},{"p":"C","g":"Group 1","t":48,"n":207},{"p":"C","g":"Group 1","t":72,"n":196},{"p":"C","g":"Group 1","t":96,"n":190},{"p":"C","g":"Group 1","t":120,"n":177},{"p":"C","g":"Group 1","t":144,"n":144},{"p":"C","g":"Group 1","t":168,"n":69},{"p":"C","g":"Group 1","t":192,"n":40},{"p":"C","g":"Group 1","t":216,"n":4},{"p":"C","g":"Group 1","t":240,"n":0},
{"p":"C","g":"Group 2","t":0,"n":134},{"p":"C","g":"Group 2","t":24,"n":120},{"p":"C","g":"Group 2","t":48,"n":91},{"p":"C","g":"Group 2","t":72,"n":85},{"p":"C","g":"Group 2","t":96,"n":78},{"p":"C","g":"Group 2","t":120,"n":70},{"p":"C","g":"Group 2","t":144,"n":50},{"p":"C","g":"Group 2","t":168,"n":17},{"p":"C","g":"Group 2","t":192,"n":10},{"p":"C","g":"Group 2","t":216,"n":0},{"p":"C","g":"Group 2","t":240,"n":0},
{"p":"C","g":"Group 3","t":0,"n":78},{"p":"C","g":"Group 3","t":24,"n":52},{"p":"C","g":"Group 3","t":48,"n":43},{"p":"C","g":"Group 3","t":72,"n":39},{"p":"C","g":"Group 3","t":96,"n":37},{"p":"C","g":"Group 3","t":120,"n":34},{"p":"C","g":"Group 3","t":144,"n":30},{"p":"C","g":"Group 3","t":168,"n":18},{"p":"C","g":"Group 3","t":192,"n":14},{"p":"C","g":"Group 3","t":216,"n":0},{"p":"C","g":"Group 3","t":240,"n":0},
{"p":"D","g":"Group 1","t":0,"n":244},{"p":"D","g":"Group 1","t":24,"n":238},{"p":"D","g":"Group 1","t":48,"n":222},{"p":"D","g":"Group 1","t":72,"n":208},{"p":"D","g":"Group 1","t":96,"n":201},{"p":"D","g":"Group 1","t":120,"n":187},{"p":"D","g":"Group 1","t":144,"n":151},{"p":"D","g":"Group 1","t":168,"n":72},{"p":"D","g":"Group 1","t":192,"n":42},{"p":"D","g":"Group 1","t":216,"n":4},{"p":"D","g":"Group 1","t":240,"n":0},
{"p":"D","g":"Group 2","t":0,"n":134},{"p":"D","g":"Group 2","t":24,"n":126},{"p":"D","g":"Group 2","t":48,"n":107},{"p":"D","g":"Group 2","t":72,"n":90},{"p":"D","g":"Group 2","t":96,"n":82},{"p":"D","g":"Group 2","t":120,"n":73},{"p":"D","g":"Group 2","t":144,"n":54},{"p":"D","g":"Group 2","t":168,"n":20},{"p":"D","g":"Group 2","t":192,"n":12},{"p":"D","g":"Group 2","t":216,"n":0},{"p":"D","g":"Group 2","t":240,"n":0},
{"p":"D","g":"Group 3","t":0,"n":78},{"p":"D","g":"Group 3","t":24,"n":65},{"p":"D","g":"Group 3","t":48,"n":51},{"p":"D","g":"Group 3","t":72,"n":42},{"p":"D","g":"Group 3","t":96,"n":40},{"p":"D","g":"Group 3","t":120,"n":38},{"p":"D","g":"Group 3","t":144,"n":33},{"p":"D","g":"Group 3","t":168,"n":19},{"p":"D","g":"Group 3","t":192,"n":15},{"p":"D","g":"Group 3","t":216,"n":0},{"p":"D","g":"Group 3","t":240,"n":0}
]
},
"spacing": 7,
"vconcat": [
{"hconcat": [
{"vconcat": [
{"width": 262, "height": 175, "title": "A", "data": {"name": "km"}, "transform": [{"filter": "datum.p == 'A'"}],
"layer": [
{"mark": {"type": "line", "interpolate": "step-after", "color": "black", "strokeWidth": 1.4},
"encoding": {"x": {"field": "t", "type": "quantitative", "scale": {"domain": [0, 240], "nice": false}, "axis": {"values": [0,24,48,72,96,120,144,168,192,216,240], "tickCount": 30, "labelOverlap": false, "title": "Survival time (Months)"}},
"y": {"field": "s", "type": "quantitative", "scale": {"domain": [0, 100], "nice": false}, "axis": {"values": [0,20,40,60,80,100], "tickCount": 30, "labelOverlap": false, "title": "Local-regional failure-free survival (%)"}},
"strokeDash": {"field": "g", "type": "nominal", "scale": {"domain": ["Low-risk","Medium-risk","High-risk"], "range": [[1,0],[5,2.5],[1.5,1.5]]}, "legend": null}}},
{"transform": [{"filter": "datum.c == 1"}], "mark": {"type": "tick", "orient": "vertical", "size": 5, "thickness": 1, "color": "black", "yOffset": -2}, "encoding": {"x": {"field": "t", "type": "quantitative"}, "y": {"field": "s", "type": "quantitative"}}},
{"transform": [{"joinaggregate": [{"op": "max", "field": "t", "as": "mt"}], "groupby": ["g"]}, {"filter": "datum.t == datum.mt"}], "mark": {"type": "text", "align": "left", "baseline": "middle", "dy": -9, "fontWeight": "bold", "fontSize": 10, "color": "black"}, "encoding": {"x": {"datum": 179}, "y": {"field": "s", "type": "quantitative"}, "text": {"field": "g"}}},
{"data": {"values": [{}]}, "mark": {"type": "text", "text": "P", "align": "left", "baseline": "middle", "fontStyle": "italic", "fontWeight": "bold", "fontSize": 11, "color": "black"}, "encoding": {"x": {"datum": 15}, "y": {"datum": 15.5}}},
{"data": {"values": [{}]}, "mark": {"type": "text", "text": "<0.001", "align": "left", "baseline": "middle", "dx": 7, "fontWeight": "bold", "fontSize": 11, "color": "black"}, "encoding": {"x": {"datum": 15}, "y": {"datum": 15.5}}}
]},
{"width": 262, "height": 69, "layer": [
{"data": {"name": "risk"}, "transform": [{"filter": "datum.p == 'A'"}], "mark": {"type": "text", "fontWeight": "bold", "fontSize": 10, "color": "black"},
"encoding": {"x": {"field": "t", "type": "quantitative", "scale": {"domain": [0, 240], "nice": false}, "axis": null},
"y": {"field": "g", "type": "nominal", "scale": {"domain": ["Number at risk","Group 1","Group 2","Group 3"], "paddingInner": 0, "paddingOuter": 0}, "axis": {"labelAlign": "left", "labelPadding": 53, "ticks": false, "domain": false, "labelFontWeight": "bold", "labelFontSize": 10, "title": null}},
"text": {"field": "n", "type": "quantitative"}}},
{"data": {"values": [{}]}, "mark": {"type": "rule", "color": "black", "strokeWidth": 1}, "encoding": {"x": {"datum": -55}, "x2": {"datum": 250}, "y": {"datum": "Number at risk", "type": "nominal", "bandPosition": 0}}},
{"data": {"values": [{}]}, "mark": {"type": "rule", "color": "#444444", "strokeWidth": 2.5}, "encoding": {"x": {"datum": -55}, "x2": {"datum": 250}, "y": {"datum": "Group 3", "type": "nominal", "bandPosition": 1}}}
]}
], "spacing": 3},
{"vconcat": [
{"width": 262, "height": 175, "title": "B", "data": {"name": "km"}, "transform": [{"filter": "datum.p == 'B'"}],
"layer": [
{"mark": {"type": "line", "interpolate": "step-after", "color": "black", "strokeWidth": 1.4},
"encoding": {"x": {"field": "t", "type": "quantitative", "scale": {"domain": [0, 240], "nice": false}, "axis": {"values": [0,24,48,72,96,120,144,168,192,216,240], "tickCount": 30, "labelOverlap": false, "title": "Survival time (Months)"}},
"y": {"field": "s", "type": "quantitative", "scale": {"domain": [0, 100], "nice": false}, "axis": {"values": [0,20,40,60,80,100], "tickCount": 30, "labelOverlap": false, "title": "Distant failure-free survival(%)"}},
"strokeDash": {"field": "g", "type": "nominal", "scale": {"domain": ["Low-risk","Medium-risk","High-risk"], "range": [[1,0],[5,2.5],[1.5,1.5]]}, "legend": null}}},
{"transform": [{"filter": "datum.c == 1"}], "mark": {"type": "tick", "orient": "vertical", "size": 5, "thickness": 1, "color": "black", "yOffset": -2}, "encoding": {"x": {"field": "t", "type": "quantitative"}, "y": {"field": "s", "type": "quantitative"}}},
{"transform": [{"joinaggregate": [{"op": "max", "field": "t", "as": "mt"}], "groupby": ["g"]}, {"filter": "datum.t == datum.mt"}], "mark": {"type": "text", "align": "left", "baseline": "middle", "dy": -9, "fontWeight": "bold", "fontSize": 10, "color": "black"}, "encoding": {"x": {"datum": 179}, "y": {"field": "s", "type": "quantitative"}, "text": {"field": "g"}}},
{"data": {"values": [{}]}, "mark": {"type": "text", "text": "P", "align": "left", "baseline": "middle", "fontStyle": "italic", "fontWeight": "bold", "fontSize": 11, "color": "black"}, "encoding": {"x": {"datum": 13}, "y": {"datum": 15.5}}},
{"data": {"values": [{}]}, "mark": {"type": "text", "text": "<0.001", "align": "left", "baseline": "middle", "dx": 7, "fontWeight": "bold", "fontSize": 11, "color": "black"}, "encoding": {"x": {"datum": 13}, "y": {"datum": 15.5}}}
]},
{"width": 262, "height": 69, "layer": [
{"data": {"name": "risk"}, "transform": [{"filter": "datum.p == 'B'"}], "mark": {"type": "text", "fontWeight": "bold", "fontSize": 10, "color": "black"},
"encoding": {"x": {"field": "t", "type": "quantitative", "scale": {"domain": [0, 240], "nice": false}, "axis": null},
"y": {"field": "g", "type": "nominal", "scale": {"domain": ["Number at risk","Group 1","Group 2","Group 3"], "paddingInner": 0, "paddingOuter": 0}, "axis": {"labelAlign": "left", "labelPadding": 50, "ticks": false, "domain": false, "labelFontWeight": "bold", "labelFontSize": 10, "title": null}},
"text": {"field": "n", "type": "quantitative"}}},
{"data": {"values": [{}]}, "mark": {"type": "rule", "color": "black", "strokeWidth": 1}, "encoding": {"x": {"datum": -52}, "x2": {"datum": 250}, "y": {"datum": "Number at risk", "type": "nominal", "bandPosition": 0}}},
{"data": {"values": [{}]}, "mark": {"type": "rule", "color": "#444444", "strokeWidth": 2.5}, "encoding": {"x": {"datum": -52}, "x2": {"datum": 250}, "y": {"datum": "Group 3", "type": "nominal", "bandPosition": 1}}}
]}
], "spacing": 3}
], "spacing": 16},
{"hconcat": [
{"vconcat": [
{"width": 262, "height": 175, "title": "C", "data": {"name": "km"}, "transform": [{"filter": "datum.p == 'C'"}],
"layer": [
{"mark": {"type": "line", "interpolate": "step-after", "color": "black", "strokeWidth": 1.4},
"encoding": {"x": {"field": "t", "type": "quantitative", "scale": {"domain": [0, 240], "nice": false}, "axis": {"values": [0,24,48,72,96,120,144,168,192,216,240], "tickCount": 30, "labelOverlap": false, "title": "Survival time (Months)"}},
"y": {"field": "s", "type": "quantitative", "scale": {"domain": [0, 100], "nice": false}, "axis": {"values": [0,20,40,60,80,100], "tickCount": 30, "labelOverlap": false, "title": "Failure-free survival (%)"}},
"strokeDash": {"field": "g", "type": "nominal", "scale": {"domain": ["Low-risk","Medium-risk","High-risk"], "range": [[1,0],[5,2.5],[1.5,1.5]]}, "legend": null}}},
{"transform": [{"filter": "datum.c == 1"}], "mark": {"type": "tick", "orient": "vertical", "size": 5, "thickness": 1, "color": "black", "yOffset": -2}, "encoding": {"x": {"field": "t", "type": "quantitative"}, "y": {"field": "s", "type": "quantitative"}}},
{"transform": [{"joinaggregate": [{"op": "max", "field": "t", "as": "mt"}], "groupby": ["g"]}, {"filter": "datum.t == datum.mt"}], "mark": {"type": "text", "align": "left", "baseline": "middle", "dy": -9, "fontWeight": "bold", "fontSize": 10, "color": "black"}, "encoding": {"x": {"datum": 174}, "y": {"field": "s", "type": "quantitative"}, "text": {"field": "g"}}},
{"data": {"values": [{}]}, "mark": {"type": "text", "text": "P", "align": "left", "baseline": "middle", "fontStyle": "italic", "fontWeight": "bold", "fontSize": 11, "color": "black"}, "encoding": {"x": {"datum": 12}, "y": {"datum": 17.5}}},
{"data": {"values": [{}]}, "mark": {"type": "text", "text": "<0.001", "align": "left", "baseline": "middle", "dx": 7, "fontWeight": "bold", "fontSize": 11, "color": "black"}, "encoding": {"x": {"datum": 12}, "y": {"datum": 17.5}}}
]},
{"width": 262, "height": 70, "layer": [
{"data": {"name": "risk"}, "transform": [{"filter": "datum.p == 'C'"}], "mark": {"type": "text", "fontWeight": "bold", "fontSize": 10, "color": "black"},
"encoding": {"x": {"field": "t", "type": "quantitative", "scale": {"domain": [0, 240], "nice": false}, "axis": null},
"y": {"field": "g", "type": "nominal", "scale": {"domain": ["Number at risk","Group 1","Group 2","Group 3"], "paddingInner": 0, "paddingOuter": 0}, "axis": {"labelAlign": "left", "labelPadding": 51, "ticks": false, "domain": false, "labelFontWeight": "bold", "labelFontSize": 10, "title": null}},
"text": {"field": "n", "type": "quantitative"}}},
{"data": {"values": [{}]}, "mark": {"type": "rule", "color": "black", "strokeWidth": 1}, "encoding": {"x": {"datum": -53}, "x2": {"datum": 250}, "y": {"datum": "Number at risk", "type": "nominal", "bandPosition": 0}}},
{"data": {"values": [{}]}, "mark": {"type": "rule", "color": "#444444", "strokeWidth": 2.5}, "encoding": {"x": {"datum": -53}, "x2": {"datum": 250}, "y": {"datum": "Group 3", "type": "nominal", "bandPosition": 1}}}
]}
], "spacing": 11},
{"vconcat": [
{"width": 262, "height": 175, "title": "D", "data": {"name": "km"}, "transform": [{"filter": "datum.p == 'D'"}],
"layer": [
{"mark": {"type": "line", "interpolate": "step-after", "color": "black", "strokeWidth": 1.4},
"encoding": {"x": {"field": "t", "type": "quantitative", "scale": {"domain": [0, 240], "nice": false}, "axis": {"values": [0,24,48,72,96,120,144,168,192,216,240], "tickCount": 30, "labelOverlap": false, "title": "Survival time (Months)"}},
"y": {"field": "s", "type": "quantitative", "scale": {"domain": [0, 100], "nice": false}, "axis": {"values": [0,20,40,60,80,100], "tickCount": 30, "labelOverlap": false, "title": "Overall survival (%)"}},
"strokeDash": {"field": "g", "type": "nominal", "scale": {"domain": ["Low-risk","Medium-risk","High-risk"], "range": [[1,0],[5,2.5],[1.5,1.5]]}, "legend": null}}},
{"transform": [{"filter": "datum.c == 1"}], "mark": {"type": "tick", "orient": "vertical", "size": 5, "thickness": 1, "color": "black", "yOffset": -2}, "encoding": {"x": {"field": "t", "type": "quantitative"}, "y": {"field": "s", "type": "quantitative"}}},
{"transform": [{"joinaggregate": [{"op": "max", "field": "t", "as": "mt"}], "groupby": ["g"]}, {"filter": "datum.t == datum.mt"}], "mark": {"type": "text", "align": "left", "baseline": "middle", "dy": -9, "fontWeight": "bold", "fontSize": 10, "color": "black"}, "encoding": {"x": {"datum": 184}, "y": {"field": "s", "type": "quantitative"}, "text": {"field": "g"}}},
{"data": {"values": [{}]}, "mark": {"type": "text", "text": "P", "align": "left", "baseline": "middle", "fontStyle": "italic", "fontWeight": "bold", "fontSize": 11, "color": "black"}, "encoding": {"x": {"datum": 14}, "y": {"datum": 17}}},
{"data": {"values": [{}]}, "mark": {"type": "text", "text": "<0.001", "align": "left", "baseline": "middle", "dx": 7, "fontWeight": "bold", "fontSize": 11, "color": "black"}, "encoding": {"x": {"datum": 14}, "y": {"datum": 17}}}
]},
{"width": 262, "height": 70, "layer": [
{"data": {"name": "risk"}, "transform": [{"filter": "datum.p == 'D'"}], "mark": {"type": "text", "fontWeight": "bold", "fontSize": 10, "color": "black"},
"encoding": {"x": {"field": "t", "type": "quantitative", "scale": {"domain": [0, 240], "nice": false}, "axis": null},
"y": {"field": "g", "type": "nominal", "scale": {"domain": ["Number at risk","Group 1","Group 2","Group 3"], "paddingInner": 0, "paddingOuter": 0}, "axis": {"labelAlign": "left", "labelPadding": 50, "ticks": false, "domain": false, "labelFontWeight": "bold", "labelFontSize": 10, "title": null}},
"text": {"field": "n", "type": "quantitative"}}},
{"data": {"values": [{}]}, "mark": {"type": "rule", "color": "black", "strokeWidth": 1}, "encoding": {"x": {"datum": -52}, "x2": {"datum": 250}, "y": {"datum": "Number at risk", "type": "nominal", "bandPosition": 0}}},
{"data": {"values": [{}]}, "mark": {"type": "rule", "color": "#444444", "strokeWidth": 2.5}, "encoding": {"x": {"datum": -52}, "x2": {"datum": 250}, "y": {"datum": "Group 3", "type": "nominal", "bandPosition": 1}}}
]}
], "spacing": 11}
], "spacing": 16}
],
"config": {
"view": {"stroke": null},
"font": "Liberation Serif",
"text": {"font": "Liberation Serif"},
"axis": {"labelFont": "Liberation Serif", "labelFontSize": 12, "labelColor": "black", "titleFont": "Liberation Serif", "titleFontSize": 11.5, "titleFontWeight": "normal", "titleColor": "black", "domainColor": "black", "domainWidth": 2, "tickColor": "black", "tickWidth": 2, "tickSize": 5, "grid": false, "labelFlush": false, "labelPadding": 2, "titlePadding": 3, "labelOverlap": false},
"title": {"anchor": "start", "font": "Liberation Serif", "fontSize": 11, "fontWeight": "bold", "color": "black", "offset": 7}
}
}
